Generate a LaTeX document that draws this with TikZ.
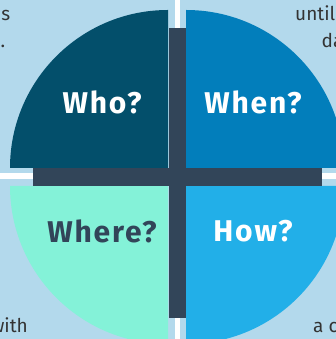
\documentclass[tikz,border=0pt]{standalone}
\usepackage{fontspec}
\setmainfont{Fira Sans}
\definecolor{bg}{HTML}{B3D9EC}
\definecolor{who}{HTML}{034F6B}
\definecolor{when}{HTML}{027EBB}
\definecolor{where}{HTML}{84F2D8}
\definecolor{how}{HTML}{22AFE8}
\definecolor{bar}{HTML}{324559}
\definecolor{body}{HTML}{333333}
\begin{document}
\begin{tikzpicture}[x=1pt,y=1pt,
  label/.style={font=\fontsize{30}{32}\selectfont\bfseries\addfontfeatures{LetterSpace=6}, inner sep=0pt, anchor=center},
  corner/.style={font=\fontsize{19}{22}\selectfont, text=body, inner sep=0pt}]
\useasboundingbox (0,0) rectangle (336,339);
\clip (0,0) rectangle (336,339);
\fill[bg] (0,0) rectangle (336,339);
% white dividing cross
\fill[white] (175,0) rectangle (180,339);
\fill[white] (0,160) rectangle (336,166);
% quarters
\fill[who] (168,171) -- (10,171) arc[start angle=180,end angle=90,radius=158] -- cycle;
\fill[when] (186,171) -- (186,329) arc[start angle=90,end angle=0,radius=158] -- cycle;
\fill[where] (168,153) -- (10,153) arc[start angle=180,end angle=270,radius=158] -- cycle;
\fill[how] (186,153) -- (186,-5) arc[start angle=270,end angle=360,radius=158] -- cycle;
% central cross bars
\fill[bar] (33,153) rectangle (322,171);
\fill[bar] (168.5,21) rectangle (186,310.5);
% labels
\node[label,text=white] (who) at (102,237) {Who?};
\node[label,text=white] (when) at (253,237) {When?};
\node[label,text=bar] (where) at (102,107.5) {Where?};
\node[label,text=white] (how) at (253,107.5) {How?};
% corner text fragments
\node[corner,anchor=base east] (tl1) at (10.5,318) {s};
\node[corner,anchor=base east] (tl2) at (5.5,291) {.};
\node[corner,anchor=base west] (tr1) at (295,318) {until};
\node[corner,anchor=base west] (tr2) at (321.5,291) {da};
\node[corner,anchor=base east] (bl1) at (28,6) {with};
\node[corner,anchor=base west] (br1) at (313,6) {a c};
\end{tikzpicture}
\end{document}
